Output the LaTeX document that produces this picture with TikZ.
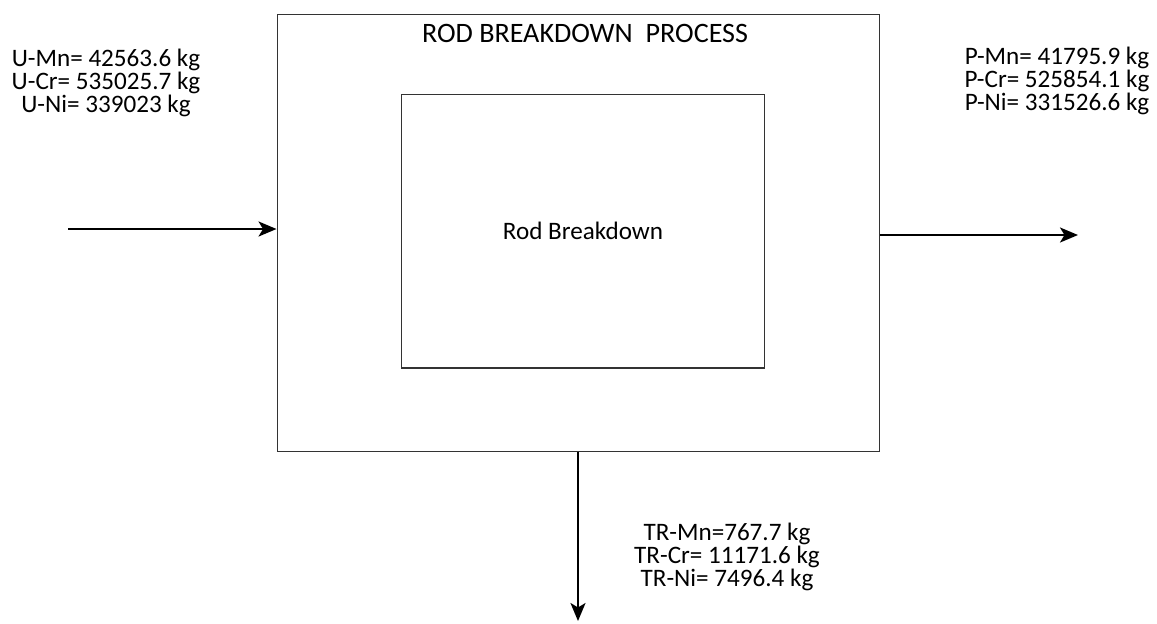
\documentclass[tikz,border=0pt]{standalone}
\usepackage{fontspec}
\setmainfont{Carlito}
\usetikzlibrary{arrows.meta}

\begin{document}
\begin{tikzpicture}[x=0.02cm,y=-0.02cm,
        box/.style={draw=black!80,line width=0.6pt,minimum width=#1},
        flow/.style={line width=1.3pt,-{Stealth[length=0.36cm,width=0.3cm,inset=0.09cm]}},
        mass/.style={align=center,inner sep=0pt,font=\fontsize{14.3}{12.9}\selectfont}]
        \useasboundingbox (0,0) rectangle (1157,623);
        \node[box=12.06cm,minimum height=8.76cm] (outer) at (578.5,233) {};
        \node[box=7.28cm,minimum height=5.48cm,font=\fontsize{14.3}{17}\selectfont] (inner) at (583,231) {Rod Breakdown};
        \node[anchor=base,font=\fontsize{16}{19}\selectfont] (title) at (585,42) {ROD BREAKDOWN\ \ PROCESS};
        \node[mass] (umass) at (106,83) {U-Mn= 42563.6 kg\\U-Cr= 535025.7 kg\\U-Ni= 339023 kg};
        \node[mass] (pmass) at (1057,81) {P-Mn= 41795.9 kg\\P-Cr= 525854.1 kg\\P-Ni= 331526.6 kg};
        \node[mass] (trmass) at (727,557) {TR-Mn=767.7 kg\\TR-Cr= 11171.6 kg\\TR-Ni= 7496.4 kg};
        \coordinate (u) at (68,229);
        \coordinate (p) at (1078,235);
        \coordinate (tr) at (578,621);
        \draw[flow] (u) -- (u -| outer.west);
        \draw[flow] (outer.east |- p) -- (p);
        \draw[flow] (outer.south -| tr) -- (tr);
    \end{tikzpicture}
\end{document}
